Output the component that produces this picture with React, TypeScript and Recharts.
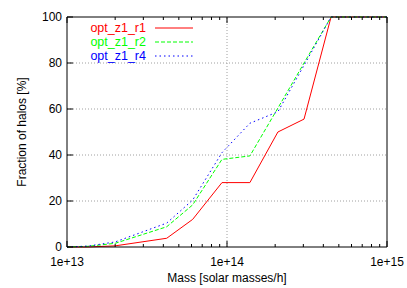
import { LineChart, Line, XAxis, YAxis, CartesianGrid, ReferenceLine, Legend } from 'recharts';

// halo mass bins [solar masses/h]
const mass = [1e13, 1.35e13, 2e13, 4.2e13, 6.1e13, 9.3e13, 1.39e14, 2.08e14, 3.03e14, 4.47e14, 1e15];
// fraction of halos [%] per run
const r1 = [0, 0, 0.5, 3.8, 12, 28, 28, 50, 55.6, 100, 100];
const r2 = [0, 0.3, 1.6, 8.8, 18.3, 38.1, 39.6, 60.4, 80, 100, 100];
const r4 = [0, 0.4, 2.2, 10.4, 20.4, 41, 53.8, 58.8, 79, 100, 100];

const seriesKeys = ['r1', 'r2', 'r4'];
const seriesNames = ['opt_z1_r1', 'opt_z1_r2', 'opt_z1_r4'];

const majorTicks = [1e13, 1e14, 1e15];
const minorTicks = [2e13, 3e13, 4e13, 5e13, 6e13, 7e13, 8e13, 9e13, 2e14, 3e14, 4e14, 5e14, 6e14, 7e14, 8e14, 9e14];
const yTicks = [0, 20, 40, 60, 80, 100];
const yGrid = [20, 40, 60, 80];
const xGrid = [1e14];

const colors: Record<string, string> = { r1: '#ff0000', r2: '#00ff00', r4: '#0000ff' };
const dashes: Record<string, string | undefined> = { r1: undefined, r2: '4 2', r4: '1.5 3' };

const data = mass.map((m, i) => ({ mass: m, r1: r1[i], r2: r2[i], r4: r4[i] }));
const allTicks = [...majorTicks, ...minorTicks].sort((a, b) => a - b);

const FONT = '"Liberation Sans", Arial, sans-serif';

const isMajor = (v: number) => majorTicks.includes(v);
const fmt = (v: number) => v.toExponential();

const BottomTick = ({ x, y, payload }: any) => (
  <g>
    <line x1={x} x2={x} y1={y} y2={y - (isMajor(payload.value) ? 6 : 3)} stroke="#000" />
    {isMajor(payload.value) && (
      <text x={x} y={y + 19} textAnchor="middle" fontSize={12} fill="#000">
        {fmt(payload.value)}
      </text>
    )}
  </g>
);

const TopTick = ({ x, y, payload }: any) => (
  <line x1={x} x2={x} y1={y} y2={y + (isMajor(payload.value) ? 6 : 3)} stroke="#000" />
);

const LeftTick = ({ x, y, payload }: any) => (
  <g>
    <line x1={x} x2={x + 6} y1={y} y2={y} stroke="#000" />
    <text x={x - 5} y={y + 4} textAnchor="end" fontSize={12} fill="#000">
      {payload.value}
    </text>
  </g>
);

const RightTick = ({ x, y }: any) => <line x1={x} x2={x - 6} y1={y} y2={y} stroke="#000" />;

const LegendBox = () => (
  <div style={{ fontFamily: FONT, fontSize: 12.5 }}>
    {seriesKeys.map((k, i) => (
      <div key={k} style={{ display: 'flex', alignItems: 'center', height: 14 }}>
        <span style={{ width: 66, textAlign: 'right', color: colors[k], lineHeight: '14px' }}>{seriesNames[i]}</span>
        <svg width={40} height={14} style={{ marginLeft: 9 }}>
          <line x1={0} x2={38} y1={7} y2={7} stroke={colors[k]} strokeDasharray={dashes[k]} />
        </svg>
      </div>
    ))}
  </div>
);

export default function App() {
  return (
    <div style={{ position: 'absolute', left: 0, top: 0, background: '#fff' }}>
      <LineChart
        width={407}
        height={288}
        data={data}
        margin={{ top: 0, right: 0, bottom: 0, left: 0 }}
        style={{ fontFamily: FONT }}
      >
        <CartesianGrid xAxisId="b" yAxisId="l" vertical={false} horizontalValues={yGrid} stroke="#a0a0a0" strokeDasharray="1 2" />
        {xGrid.map((v) => (
          <ReferenceLine key={v} x={v} xAxisId="b" yAxisId="l" stroke="#a0a0a0" strokeDasharray="1 2" />
        ))}
        <XAxis
          xAxisId="b"
          dataKey="mass"
          type="number"
          scale="log"
          domain={[1e13, 1e15]}
          allowDataOverflow
          ticks={allTicks}
          interval={0}
          tickSize={0}
          tickMargin={0}
          tickLine={false}
          tick={BottomTick}
          height={41}
          axisLine={{ stroke: '#000' }}
          label={{
            content: ({ viewBox }: any) => (
              <text x={viewBox.x + viewBox.width / 2} y={viewBox.y + 35} textAnchor="middle" fontSize={12} fill="#000">
                Mass [solar masses/h]
              </text>
            ),
          }}
        />
        <XAxis
          xAxisId="t"
          dataKey="mass"
          orientation="top"
          type="number"
          scale="log"
          domain={[1e13, 1e15]}
          allowDataOverflow
          ticks={allTicks}
          interval={0}
          tickSize={0}
          tickMargin={0}
          tickLine={false}
          tick={TopTick}
          height={17}
          axisLine={{ stroke: '#000' }}
        />
        <YAxis
          yAxisId="l"
          type="number"
          domain={[0, 100]}
          ticks={yTicks}
          interval={0}
          tickSize={0}
          tickMargin={0}
          tickLine={false}
          tick={LeftTick}
          width={67}
          axisLine={{ stroke: '#000' }}
          label={{
            content: ({ viewBox }: any) => {
              const cx = viewBox.x + 22;
              const cy = viewBox.y + viewBox.height / 2;
              return (
                <text x={cx} y={cy} transform={`rotate(-90, ${cx}, ${cy})`} textAnchor="middle" dominantBaseline="central" fontSize={12} fill="#000">
                  Fraction of halos [%]
                </text>
              );
            },
          }}
        />
        <YAxis
          yAxisId="r"
          orientation="right"
          type="number"
          domain={[0, 100]}
          ticks={yTicks}
          interval={0}
          tickSize={0}
          tickMargin={0}
          tickLine={false}
          tick={RightTick}
          width={20}
          axisLine={{ stroke: '#000' }}
        />
        <Legend
          layout="vertical"
          align="center"
          verticalAlign="middle"
          content={LegendBox}
          wrapperStyle={{ left: 80, top: 21, width: 'auto', height: 'auto' }}
        />
        {seriesKeys.map((k, i) => (
          <Line
            key={k}
            xAxisId="b"
            yAxisId="l"
            type="linear"
            dataKey={k}
            name={seriesNames[i]}
            stroke={colors[k]}
            strokeWidth={1}
            strokeDasharray={dashes[k]}
            dot={false}
            activeDot={false}
            isAnimationActive={false}
          />
        ))}
      </LineChart>
    </div>
  );
}
